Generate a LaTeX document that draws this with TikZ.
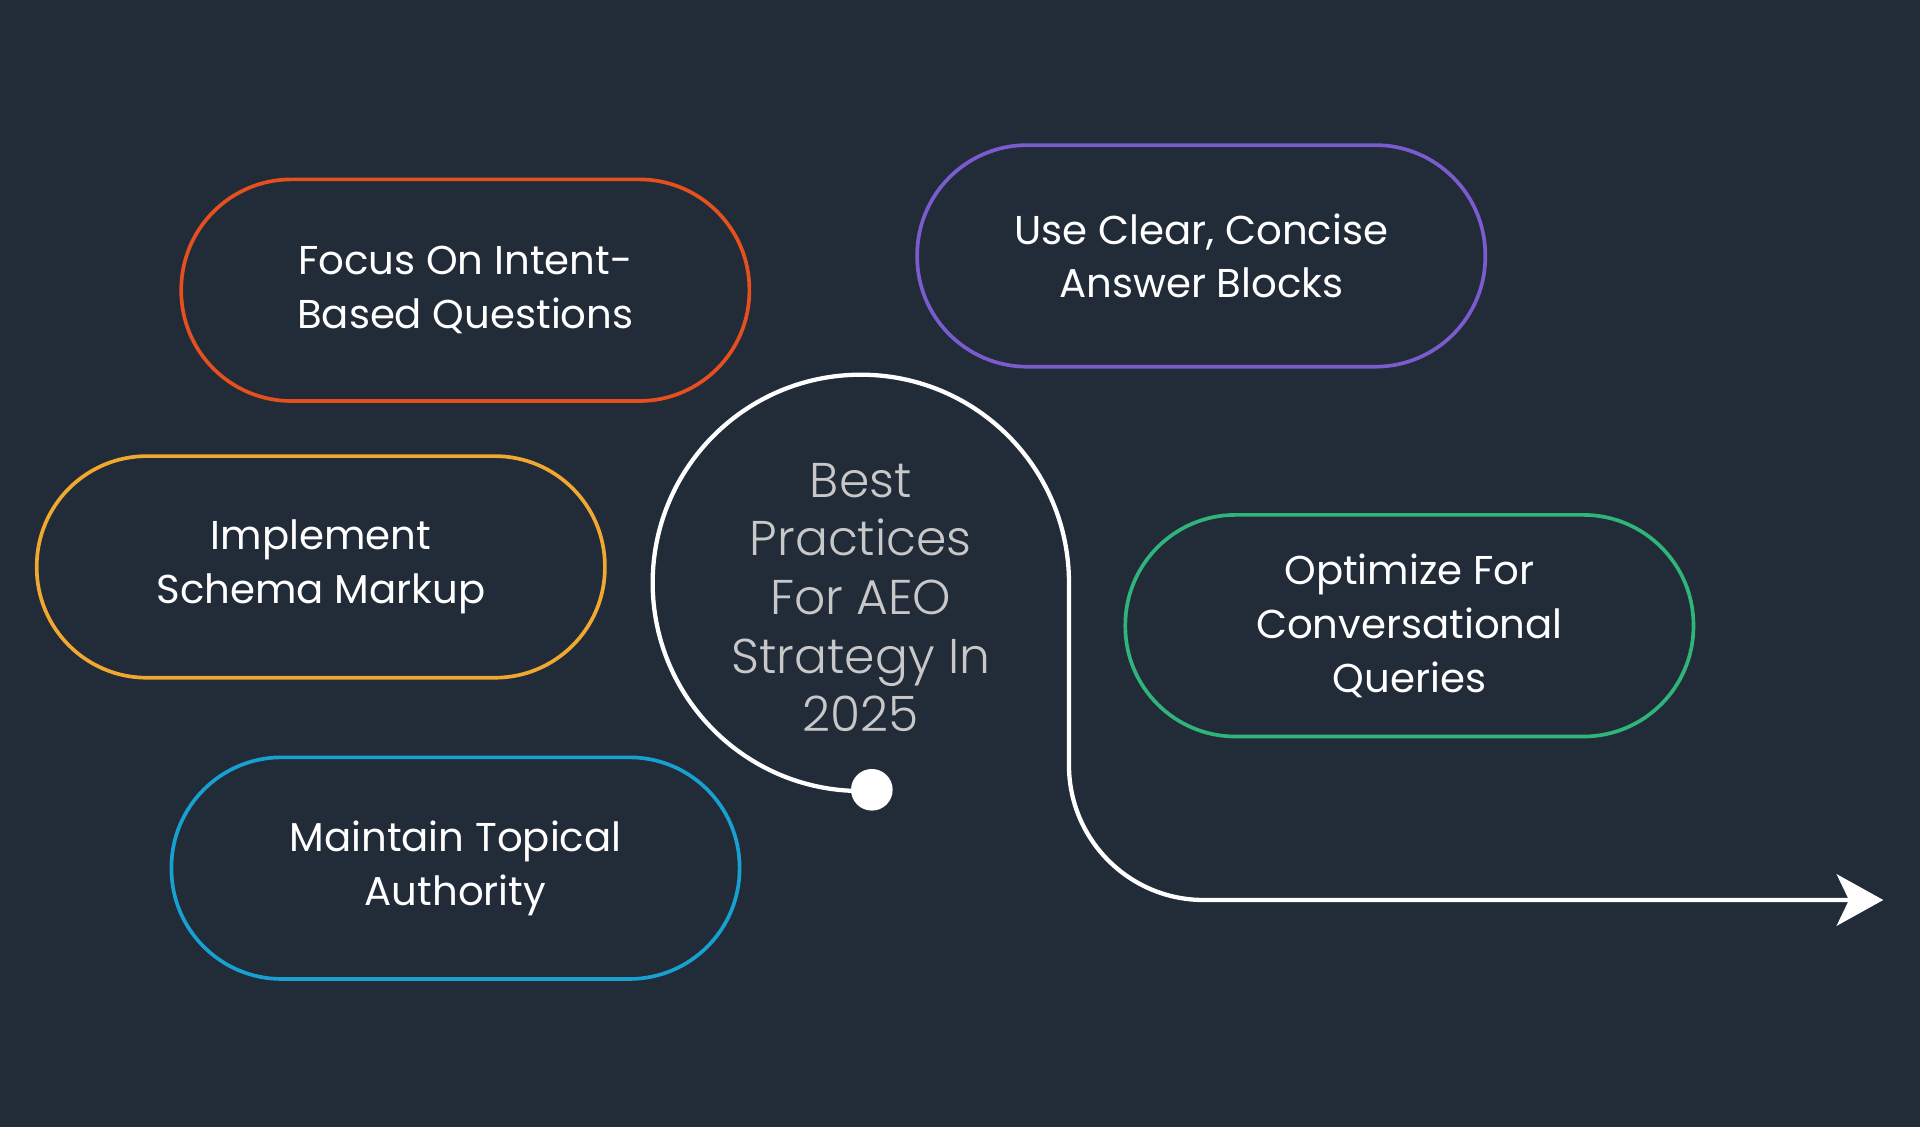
\documentclass[tikz,border=0pt]{standalone}
\usepackage{fontspec}
\setmainfont{Poppins}
\newfontfamily\thinf{Poppins}[UprightFont={* Light}]
\usetikzlibrary{arrows.meta}
\definecolor{bg}{HTML}{222B38}
\definecolor{cor}{HTML}{E5501E}
\definecolor{cpu}{HTML}{7A5CCF}
\definecolor{cye}{HTML}{F0A830}
\definecolor{cgr}{HTML}{2FB57A}
\definecolor{cbl}{HTML}{17A0D0}
\definecolor{tgrey}{HTML}{C8C8C8}
\begin{document}
\begin{tikzpicture}[x=1bp,y=1bp,
  pill/.style={draw=#1,line width=3bp,rounded corners=90bp,minimum width=464bp,minimum height=181bp,
    text=white,align=center,font=\fontsize{33}{44}\selectfont,inner sep=0pt},
  wline/.style={draw=white,line width=3.5bp}]
\fill[bg] (0,0) rectangle (1568,920);
\useasboundingbox (0,0) rectangle (1568,920);
\node[pill=cor] (p1) at (380,683) {Focus On Intent-\\Based Questions};
\node[pill=cpu] (p2) at (981,711) {Use Clear, Concise\\Answer Blocks};
\node[pill=cye] (p3) at (262,457) {Implement\\Schema Markup};
\node[pill=cgr] (p4) at (1151,409) {Optimize For\\Conversational\\Queries};
\node[pill=cbl] (p5) at (372,211) {Maintain Topical\\Authority};
\coordinate (c) at (703,444);
\node[text=tgrey,align=center,font=\thinf\fontsize{40}{48}\selectfont] (t) at (703,432)
  {Best\\Practices\\For AEO\\Strategy In\\2025};
\coordinate (s) at (703,274);
\coordinate (e) at (1538,185);
\draw[wline,-{Stealth[length=38bp,width=42bp,inset=10bp]}] (s) arc[start angle=270,end angle=0,radius=170]
  -- (873,295) arc[start angle=180,end angle=270,radius=110] -- (e);
\node[circle,fill=white,minimum size=34bp,inner sep=0pt] (d) at (712,275) {};
\end{tikzpicture}
\end{document}
